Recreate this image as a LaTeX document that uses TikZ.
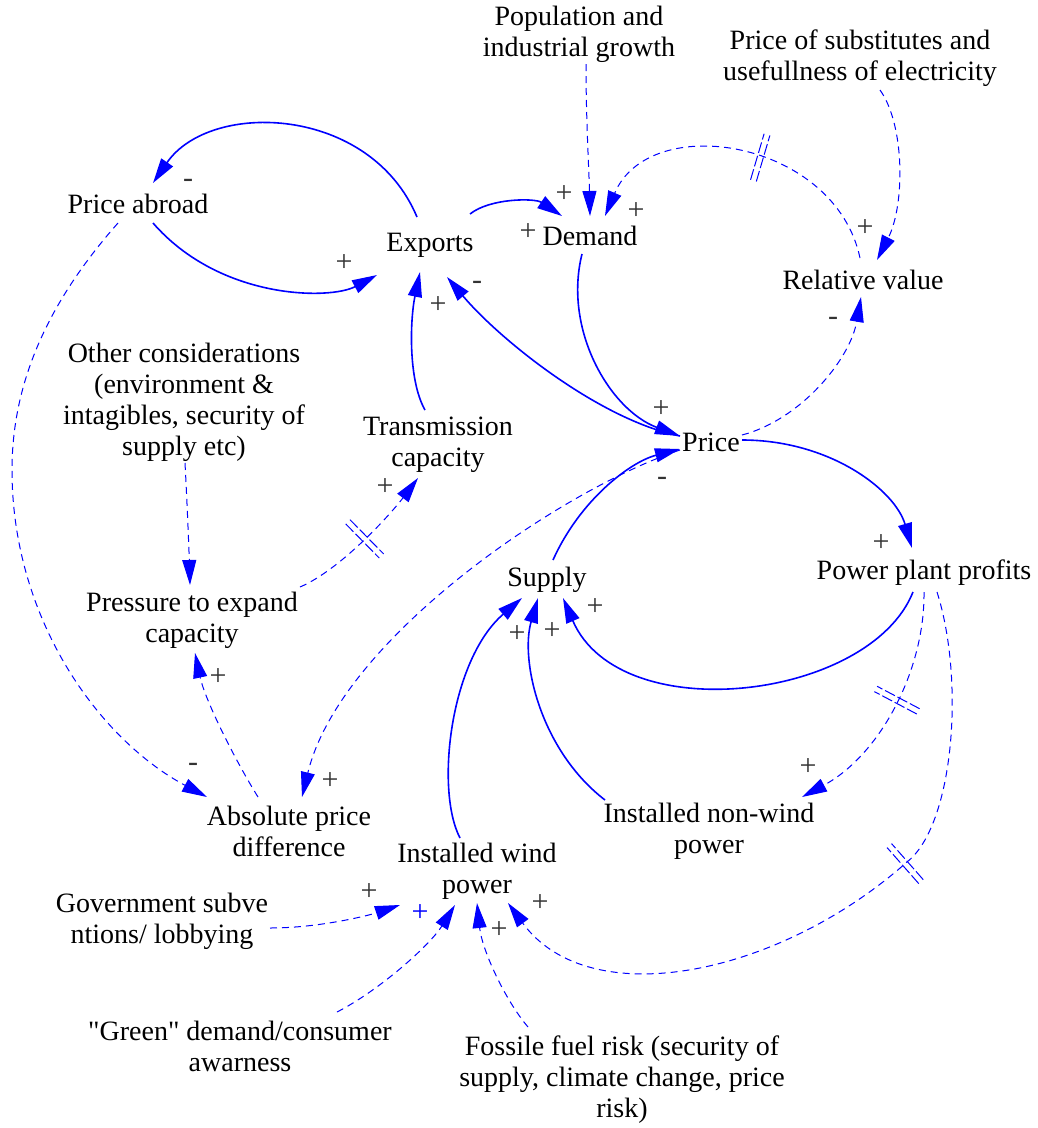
\documentclass[tikz,border=0pt]{standalone}
\usepackage{fontspec}
\setmainfont{Liberation Serif}[Ligatures=TeXOff]
\usetikzlibrary{arrows.meta,calc,decorations.markings}
\definecolor{lnk}{RGB}{0,0,255}
\tikzset{
  var/.style={inner sep=0pt, align=center, font=\fontsize{28}{31}\selectfont},
  pol/.style={inner sep=0pt, font=\fontsize{30}{32}\selectfont, text=black!80},
  bluepol/.style={pol, text=lnk},
  link/.style={draw=lnk, line width=1.6pt, -{Triangle[length=25pt,width=14pt]}},
  infl/.style={draw=lnk, line width=1pt, dash pattern=on 7pt off 5pt, -{Triangle[length=25pt,width=14pt]}},
  delay/.style={postaction={decorate,decoration={markings,
      mark=at position #1 with {\draw[arrows=-, lnk, line width=1pt, dash pattern=on 11pt off 3pt] (-3,-24)--(-3,24) (3,-24)--(3,24);}}}},
}
\begin{document}
\begin{tikzpicture}[x=1pt,y=-1pt]
\useasboundingbox (0,0) rectangle (1038,1128);

% variables
\node[var] (pop) at (579,34) {Population and\\industrial growth};
\node[var] (subs) at (860,58) {Price of substitutes and\\usefullness of electricity};
\node[var] (pa) at (138,204) {Price abroad};
\node[var] (exp) at (430,245) {Exports};
\node[var] (dem) at (590,236) {Demand};
\node[var] (rel) at (863,280) {Relative value};
\node[var] (other) at (184,402) {Other considerations\\(environment \&\\intagibles, security of\\supply etc)};
\node[var] (trans) at (438,445) {Transmission\\capacity};
\node[var] (price) at (711,442) {Price};
\node[var] (supply) at (547,580) {Supply};
\node[var] (ppp) at (924,573) {Power plant profits};
\node[var] (press) at (192,620) {Pressure to expand\\capacity};
\node[var] (apd) at (289,831) {Absolute price\\difference};
\node[var] (nonwind) at (709,831) {Installed non-wind\\power};
\node[var] (wind) at (477,871) {Installed wind\\power};
\node[var] (gov) at (162,921) {Government subve\\ntions/ lobbying};
\node[var] (green) at (240,1046) {"Green" demand/consumer\\awarness};
\node[var] (fossil) at (622,1080) {Fossile fuel risk (security of\\supply, climate change, price\\risk)};

% solid links
\draw[link] ($(exp)+(-13,-28)$) .. controls (370,105) and (210,100) .. ($(pa)+(15,-21)$);
\draw[link] ($(pa)+(15,19)$) .. controls (220,300) and (330,300) .. ($(exp)+(-53,30)$);
\draw[link] ($(exp)+(40,-31)$) .. controls (490,198) and (535,198) .. ($(dem)+(-28,-20)$);
\draw[link] ($(dem)+(-8,18)$) .. controls (563,330) and (610,410) .. ($(price)+(-31,-6)$);
\draw[link] ($(price)+(-31,-6)$) .. controls (600,420) and (500,340) .. ($(exp)+(17,32)$);
\draw[link] ($(trans)+(-13,-35)$) .. controls (408,380) and (410,320) .. ($(exp)+(-10,27)$);
\draw[link] ($(supply)+(6,-20)$) .. controls (580,500) and (630,462) .. ($(price)+(-31,7)$);
\draw[link] ($(price)+(31,-2)$) .. controls (830,440) and (895,490) .. ($(ppp)+(-12,-25)$);
\draw[link] ($(ppp)+(-11,19)$) .. controls (870,700) and (620,730) .. ($(supply)+(16,18)$);
\draw[link] ($(nonwind)+(-104,-31)$) .. controls (540,750) and (520,660) .. ($(supply)+(-9,18)$);
\draw[link] ($(wind)+(-17,-33)$) .. controls (435,790) and (450,660) .. ($(supply)+(-25,18)$);

% dashed influences
\draw[infl] ($(pop)+(7,30)$) .. controls (586,120) and (589,170) .. ($(dem)+(0,-20)$);
\draw[infl, delay=0.45] ($(rel)+(-3,-22)$) .. controls (835,140) and (650,110) .. ($(dem)+(15,-20)$);
\draw[infl] ($(subs)+(20,32)$) .. controls (905,125) and (905,205) .. ($(rel)+(14,-20)$);
\draw[infl] ($(price)+(31,-7)$) .. controls (800,420) and (850,360) .. ($(rel)+(-2,17)$);
\draw[infl] ($(price)+(-31,8)$) .. controls (560,490) and (340,640) .. ($(apd)+(13,-34)$);
\draw[infl] ($(pa)+(-20,19)$) .. controls (50,300) and (12,380) .. (12,470) .. controls (12,620) and (100,740) .. ($(apd)+(-82,-34)$);
\draw[infl] ($(other)+(1,61)$) .. controls (187,500) and (189,550) .. ($(press)+(-2,-35)$);
\draw[infl, delay=0.5] ($(press)+(108,-33)$) .. controls (340,570) and (390,515) .. ($(trans)+(-20,33)$);
\draw[infl] ($(apd)+(-31,-34)$) .. controls (235,760) and (205,700) .. ($(press)+(3,33)$);
\draw[infl, delay=0.45] ($(ppp)+(0,19)$) .. controls (925,670) and (880,755) .. ($(nonwind)+(93,-34)$);
\draw[infl, delay=0.39] ($(ppp)+(13,19)$) .. controls (965,680) and (954,825) .. (907,862) .. controls (780,975) and (590,1015) .. ($(wind)+(31,32)$);
\draw[infl] ($(gov)+(108,7)$) .. controls (320,928) and (370,915) .. ($(wind)+(-77,34)$);
\draw[infl] ($(green)+(97,-34)$) .. controls (380,990) and (430,945) .. ($(wind)+(-22,34)$);
\draw[infl] ($(fossil)+(-94,-53)$) .. controls (505,1000) and (482,950) .. ($(wind)+(0,32)$);

% polarities
\node[pol] (l1) at (188,183) {-};
\node[pol] (l2) at (344,263) {+};
\node[pol] (l3) at (528,232) {+};
\node[pol] (l4) at (564,194) {+};
\node[pol] (l5) at (636,211) {+};
\node[pol] (l6) at (865,228) {+};
\node[pol] (l7) at (661,409) {+};
\node[pol] (l8) at (477,285) {-};
\node[pol] (l9) at (438,305) {+};
\node[pol] (l10) at (662,481) {-};
\node[pol] (l11) at (881,543) {+};
\node[pol] (l12) at (595,607) {+};
\node[pol] (l13) at (552,631) {+};
\node[pol] (l14) at (517,634) {+};
\node[pol] (l15) at (808,767) {+};
\node[pol] (l16) at (540,903) {+};
\node[pol] (l17) at (833,321) {-};
\node[pol] (l18) at (330,781) {+};
\node[pol] (l19) at (193,767) {-};
\node[pol] (l21) at (385,487) {+};
\node[pol] (l22) at (218,677) {+};
\node[pol] (l23) at (369,892) {+};
\node[bluepol] (l24) at (420,913) {+};
\node[pol] (l25) at (499,930) {+};
\end{tikzpicture}
\end{document}
